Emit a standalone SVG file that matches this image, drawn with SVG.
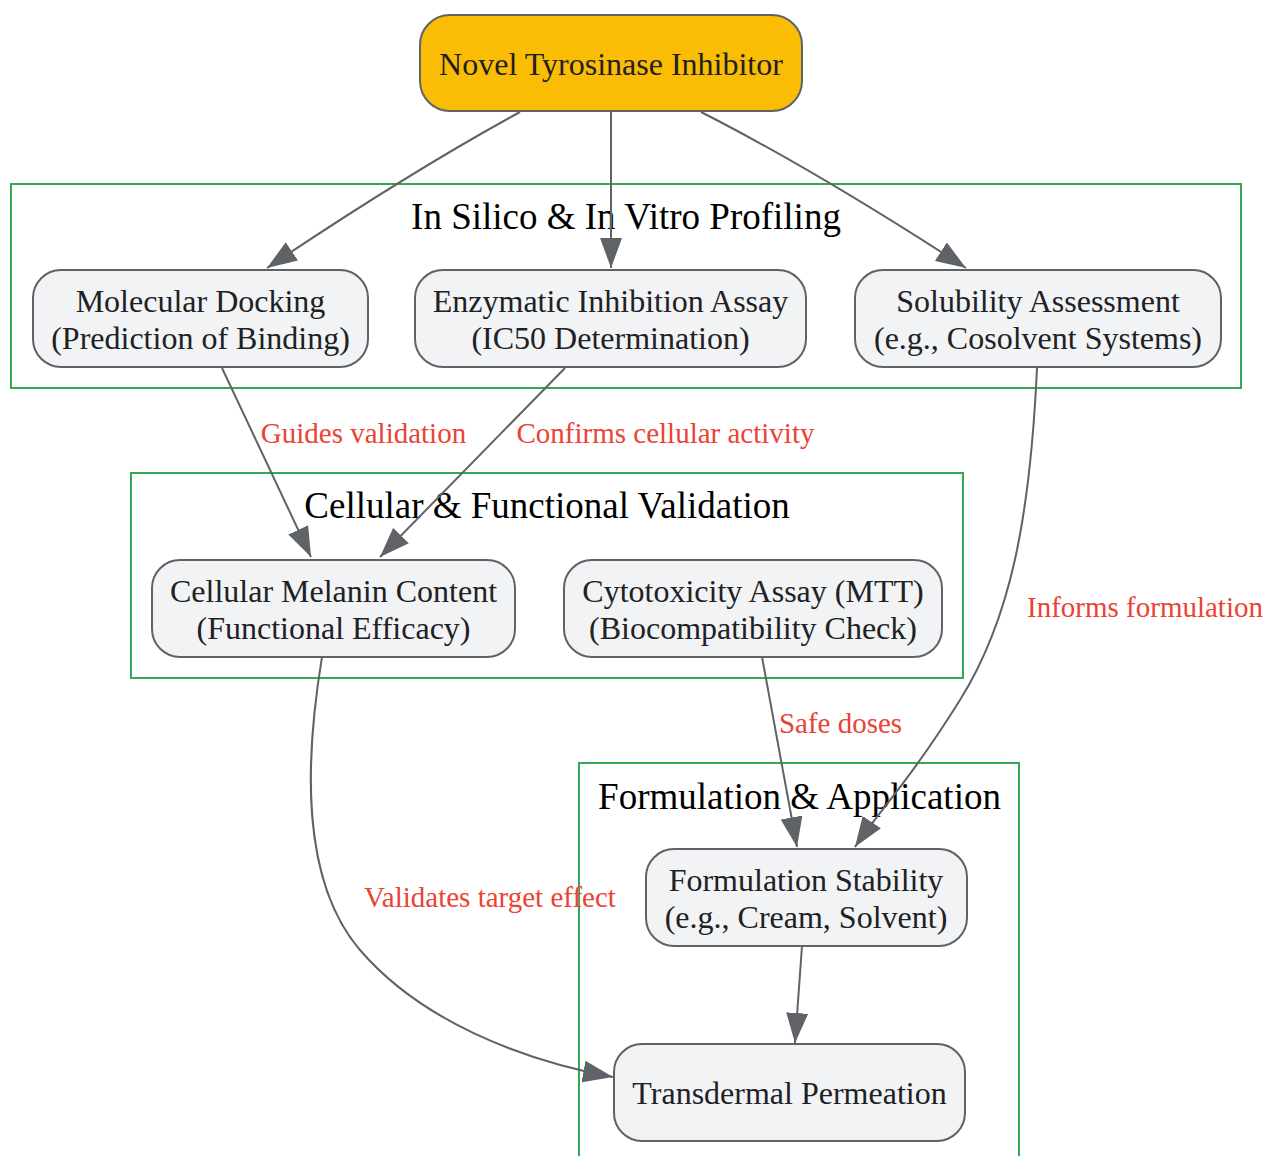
<svg xmlns="http://www.w3.org/2000/svg" width="1266" height="1156" viewBox="0 0 1266 1156">
<style>
.cluster rect{fill:none;stroke:#34a853;stroke-width:2}
.ctitle{font-family:"Liberation Serif","Times New Roman",serif;font-size:37px;fill:#000;text-anchor:middle}
.node rect{fill:#f1f3f4;stroke:#5f6368;stroke-width:2}
.node.main rect{fill:#fbbc04}
.node text{font-family:"Liberation Serif","Times New Roman",serif;font-size:32px;fill:#202124;text-anchor:middle}
.edge{fill:none;stroke:#5f6368;stroke-width:2;marker-end:url(#arrow)}
.elabel{font-family:"Liberation Serif","Times New Roman",serif;font-size:29px;fill:#ea4335;text-anchor:middle}
</style>
<defs>
<marker id="arrow" markerUnits="userSpaceOnUse" markerWidth="30" markerHeight="22" viewBox="0 0 30 22" refX="30" refY="11" orient="auto">
<path d="M0,0 L30,11 L0,22 z" fill="#5f6368"/>
</marker>
</defs>
<rect width="1266" height="1156" fill="#fff"/>
<g id="clusters">
<g id="cluster-profiling" class="cluster">
<rect x="11" y="184" width="1230" height="204"/>
<text class="ctitle" x="626" y="229">In Silico &amp; In Vitro Profiling</text>
</g>
<g id="cluster-validation" class="cluster">
<rect x="131" y="473" width="832" height="205"/>
<text class="ctitle" x="547" y="518">Cellular &amp; Functional Validation</text>
</g>
<g id="cluster-formulation" class="cluster">
<rect x="579" y="763" width="440" height="420"/>
<text class="ctitle" x="799.5" y="809">Formulation &amp; Application</text>
</g>
</g>
<g id="connectors">
<path class="edge" d="M520,112 Q410,172 267,268"/>
<path class="edge" d="M611,111 L611,268"/>
<path class="edge" d="M701,112 Q815,170 966,268"/>
<path class="edge" d="M222,368 L311,557"/>
<path class="edge" d="M565,368 L380,557"/>
<path class="edge" d="M1037,368 C1030,520 1010,620 960,700 S880,810 855,847"/>
<path class="edge" d="M762,657 L797,847"/>
<path class="edge" d="M322,657 C305,760 300,880 360,950 S520,1060 613,1077"/>
<path class="edge" d="M802,946 L795,1043"/>
<g id="edge-labels">
<text class="elabel" x="363.5" y="443">Guides validation</text>
<text class="elabel" x="665.5" y="443">Confirms cellular activity</text>
<text class="elabel" x="1145" y="617">Informs formulation</text>
<text class="elabel" x="840.5" y="733">Safe doses</text>
<text class="elabel" x="490" y="907">Validates target effect</text>
</g>
</g>
<g id="node-inhibitor" class="node main">
<rect x="420" y="15" width="382" height="96" rx="30" ry="30"/>
<text x="611" y="75">Novel Tyrosinase Inhibitor</text>
</g>
<g id="node-docking" class="node">
<rect x="33" y="270" width="335" height="97" rx="28" ry="28"/>
<text x="200.5" y="312">Molecular Docking</text>
<text x="200.5" y="349">(Prediction of Binding)</text>
</g>
<g id="node-enzymatic" class="node">
<rect x="415" y="270" width="391" height="97" rx="28" ry="28"/>
<text x="610.5" y="312">Enzymatic Inhibition Assay</text>
<text x="610.5" y="349">(IC50 Determination)</text>
</g>
<g id="node-solubility" class="node">
<rect x="855" y="270" width="366" height="97" rx="28" ry="28"/>
<text x="1038" y="312">Solubility Assessment</text>
<text x="1038" y="349">(e.g., Cosolvent Systems)</text>
</g>
<g id="node-melanin" class="node">
<rect x="152" y="560" width="363" height="97" rx="28" ry="28"/>
<text x="333.5" y="602">Cellular Melanin Content</text>
<text x="333.5" y="639">(Functional Efficacy)</text>
</g>
<g id="node-cytotox" class="node">
<rect x="564" y="560" width="378" height="97" rx="28" ry="28"/>
<text x="753" y="602">Cytotoxicity Assay (MTT)</text>
<text x="753" y="639">(Biocompatibility Check)</text>
</g>
<g id="node-stability" class="node">
<rect x="646" y="849" width="321" height="97" rx="28" ry="28"/>
<text x="806" y="891">Formulation Stability</text>
<text x="806" y="928">(e.g., Cream, Solvent)</text>
</g>
<g id="node-permeation" class="node">
<rect x="614" y="1044" width="351" height="97" rx="28" ry="28"/>
<text x="789.5" y="1104">Transdermal Permeation</text>
</g>
</svg>
